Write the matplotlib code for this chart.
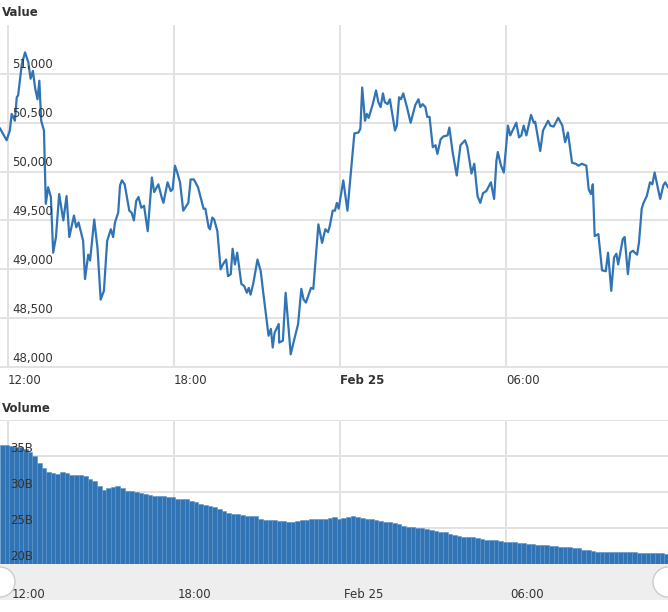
import matplotlib as mpl
mpl.use('Agg')
import matplotlib.pyplot as plt
from matplotlib.patches import Circle, Rectangle

# minutes relative to 12:00 on Feb 24
price_t = [-17, -3, 4, 8, 15, 19, 22, 30, 37, 44, 49, 54, 59, 64, 68, 72, 78, 82, 87, 93,
           98, 104, 111, 120, 127, 133, 143, 148, 153, 163, 167, 174, 178, 187, 194, 201, 208, 215, 223, 228,
           232, 239, 243, 247, 253, 263, 268, 273, 278, 283, 289, 295, 303, 312, 317, 326, 333, 337, 346, 353,
           357, 362, 367, 373, 380, 391, 396, 403, 412, 424, 428, 435, 438, 443, 447, 454, 461, 466, 473, 477,
           483, 487, 492, 497, 506, 512, 518, 522, 526, 532, 541, 548, 554, 561, 565, 570, 574, 578, 587, 588,
           596, 602, 613, 619, 629, 636, 641, 646, 657, 662, 670, 673, 681, 688, 694,
           698, 704, 709, 713, 717, 727, 736, 751, 760, 764, 768, 774, 778, 782, 791, 798, 803, 808, 813, 817,
           823, 828, 839, 843, 848, 852, 857, 865, 873, 883, 890, 894, 899, 905, 909, 914, 921, 927, 931, 938,
           944, 953, 957, 964, 973, 981, 991, 996, 1005, 1011, 1018, 1024, 1030, 1037, 1047, 1054, 1059, 1062, 1069, 1075,
           1084, 1089, 1102, 1108, 1113, 1118, 1124, 1134, 1140, 1143, 1154, 1160, 1171, 1176, 1183, 1193, 1202, 1208, 1214, 1223,
           1231, 1237, 1244, 1254, 1259, 1264, 1268, 1272, 1280, 1288, 1296, 1301, 1308, 1314, 1319, 1323, 1333, 1337, 1344, 1349,
           1355, 1359, 1364, 1368, 1374, 1378, 1385, 1392, 1397, 1402, 1414, 1421, 1425, 1431]
price = [50440, 50320, 50420, 50590, 50520, 50760, 50780, 51100, 51220, 51120, 50950, 51030, 50850, 50740, 50930, 50520, 50420, 49670, 49840, 49740,
         49170, 49330, 49770, 49500, 49750, 49330, 49550, 49430, 49480, 49290, 48900, 49150, 49090, 49510, 49220, 48690, 48780, 49290, 49410, 49330,
         49480, 49580, 49860, 49910, 49870, 49600, 49580, 49500, 49700, 49740, 49630, 49650, 49390, 49940, 49790, 49870, 49740, 49680, 49890, 49800,
         49820, 50060, 49990, 49890, 49600, 49680, 49920, 49920, 49840, 49620, 49620, 49430, 49410, 49530, 49510, 49390, 49000, 49050, 49100, 48930,
         48950, 49210, 49050, 49170, 48850, 48830, 48760, 48810, 48740, 48860, 49100, 48980, 48740, 48470, 48320, 48390, 48200, 48350, 48440, 48250,
         48270, 48760, 48130, 48250, 48440, 48800, 48690, 48660, 48810, 48800, 49290, 49460, 49270, 49410, 49380,
         49450, 49600, 49600, 49680, 49620, 49910, 49600, 50390, 50400, 50440, 50860, 50520, 50590, 50550, 50690, 50830, 50710, 50660, 50800, 50710,
         50690, 50740, 50420, 50470, 50760, 50740, 50800, 50660, 50500, 50680, 50740, 50660, 50690, 50660, 50560, 50560, 50250, 50270, 50180, 50330,
         50360, 50370, 50450, 50200, 49960, 50270, 50320, 50250, 49980, 50080, 49750, 49680, 49780, 49800, 49890, 49720, 50110, 50200, 50060, 49990,
         50470, 50370, 50500, 50350, 50370, 50470, 50370, 50580, 50500, 50510, 50210, 50420, 50520, 50470, 50460, 50550, 50470, 50300, 50400, 50090,
         50080, 50060, 50080, 50060, 49820, 49770, 49870, 49340, 49360, 48990, 48980, 49170, 48780, 49120, 49160, 49050, 49310, 49330, 48950, 49170,
         49190, 49170, 49150, 49270, 49620, 49680, 49750, 49890, 49870, 49990, 49720, 49860, 49890, 49840]

# volume in billions, one bar per 10 minutes starting 11:43
volume = [36.5, 36.5, 36.4, 36.3, 36.2, 36.0, 35.5, 35.0, 34.0, 33.3,
          32.8, 32.6, 32.5, 32.8, 32.6, 32.3, 32.4, 32.4, 32.2, 31.8,
          31.5, 30.8, 30.3, 30.6, 30.7, 30.8, 30.5, 30.2, 30.1, 30.0,
          29.8, 29.7, 29.6, 29.5, 29.4, 29.4, 29.3, 29.3, 29.0, 29.0,
          29.0, 28.8, 28.6, 28.3, 28.2, 28.1, 27.9, 27.6, 27.3, 27.1,
          27.0, 26.9, 26.8, 26.7, 26.7, 26.7, 26.3, 26.1, 26.1, 26.1,
          26.0, 26.0, 25.8, 25.9, 26.0, 26.1, 26.1, 26.2, 26.2, 26.3,
          26.3, 26.4, 26.5, 26.3, 26.4, 26.5, 26.6, 26.5, 26.4, 26.2,
          26.3, 26.1, 26.0, 25.9, 25.8, 25.7, 25.5, 25.3, 25.2, 25.1,
          25.0, 25.0, 24.9, 24.7, 24.6, 24.5, 24.5, 24.2, 24.0, 23.9,
          23.8, 23.8, 23.7, 23.6, 23.5, 23.4, 23.4, 23.3, 23.2, 23.1,
          23.1, 23.0, 22.9, 22.9, 22.8, 22.8, 22.7, 22.6, 22.6, 22.5,
          22.5, 22.4, 22.3, 22.3, 22.2, 22.2, 22.0, 21.9, 21.8, 21.7,
          21.7, 21.7, 21.7, 21.7, 21.7, 21.7, 21.6, 21.6, 21.5, 21.5,
          21.5, 21.5, 21.5, 21.5, 21.4]
vol_start = -17

tick_pos = [0, 360, 720, 1080]
tick_lab = ['12:00', '18:00', 'Feb 25', '06:00']
price_ticks = [48000, 48500, 49000, 49500, 50000, 50500, 51000]
vol_ticks = [20, 25, 30, 35]

W, H = 668, 612
fig = plt.figure(figsize=(W / 100, H / 100), dpi=100)
xlim = (-17.3, 1431)
grid = '#e2e2e2'
blue = '#3174b5'
txt = '#333333'


def fy(py):
    return 1 - py / H


ax = fig.add_axes([0, fy(368), 1, (368 - 25) / H])
ax.plot(price_t, price, color=blue, lw=1.6)
ax.set_xlim(*xlim)
ax.set_ylim(47990, 51500)
for v in price_ticks:
    ax.axhline(v, color=grid, lw=1.4, zorder=0)
    ax.text(10, v + 25, f'{v:,}', fontsize=8.5, color=txt, va='bottom', ha='left')
for p in tick_pos:
    ax.axvline(p, color=grid, lw=1.4, zorder=0)
for p, l in zip(tick_pos, tick_lab):
    ax.text(p, -0.035, l, transform=ax.get_xaxis_transform(), fontsize=8.5, color=txt,
            fontweight='bold' if l.startswith('Feb') else 'normal', ha='left', va='center')
ax.axis('off')
fig.text(2 / W, fy(12), 'Value', fontsize=8.5, fontweight='bold', color=txt, va='center')

bx = fig.add_axes([0, fy(564), 1, (564 - 420) / H])
bx.bar([vol_start + 10 * i for i in range(len(volume))], volume, width=10, align='edge',
       color=blue, edgecolor='#5b93c9', linewidth=0.4, zorder=2)
bx.set_xlim(*xlim)
bx.set_ylim(20, 40)
bx.axhline(40, color=grid, lw=1.4, zorder=0)
for v in vol_ticks:
    bx.axhline(v, color=grid, lw=1.4, zorder=1)
    bx.text(4, v + 0.2, f'{v}B', fontsize=8.5, color=txt, va='bottom', ha='left', zorder=3)
for p in tick_pos:
    bx.axvline(p, color=grid, lw=1.4, zorder=0)
bx.axis('off')
fig.text(2 / W, fy(408), 'Volume', fontsize=8.5, fontweight='bold', color=txt, va='center')

# scrollbar band
fig.patches.append(Rectangle((0, fy(600)), 1, 36 / H, transform=fig.transFigure,
                             facecolor='#eeeeee', edgecolor='none'))
for p, l in zip(tick_pos, tick_lab):
    xf = (p - xlim[0]) / (xlim[1] - xlim[0])
    fig.text(xf + 4 / W, fy(594), l, fontsize=8.5, color=txt, va='center')
for cx in [0, 1]:
    fig.patches.append(Circle((cx * W, H - 582), 15, transform=None, facecolor='white',
                              edgecolor='#cccccc', lw=1, zorder=5))

fig.savefig('out.png', dpi=100)
